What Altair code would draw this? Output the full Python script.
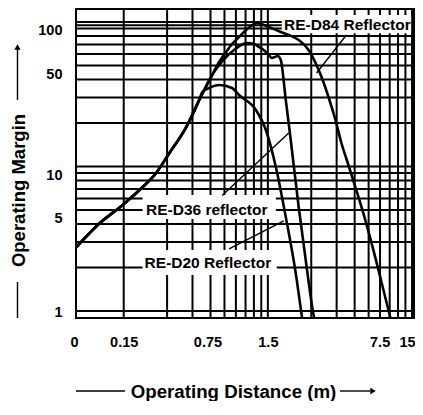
import altair as alt
import pandas as pd

FONT = "Liberation Sans"

# ---- grid and ticks ----
x_grid = [0.15, 0.3, 0.45, 0.6, 0.75, 0.9, 1.05, 1.2, 1.35, 1.5,
          3, 4.5, 6, 7.5, 9, 10.5, 12, 13.5, 15]
y_grid = [1, 2, 3, 4, 5, 6, 7, 8, 9, 10, 20, 30, 40, 50, 60, 70, 80, 90, 95, 100]
x_ticks = [0.07, 0.15, 0.75, 1.5, 7.5, 15]
y_ticks = [1, 5, 10, 50, 100]

# ---- curves ----
rise_x = [0.0705, 0.1025, 0.1476, 0.1997, 0.2454, 0.3114, 0.408, 0.5015]
rise_y = [2.77, 4.06, 5.42, 7.10, 8.73, 12.4, 18.8, 28.9]

d84_x = [0.6165, 0.6888, 0.770, 0.8467, 0.917, 1.025, 1.145, 1.26, 1.408, 1.524,
         1.844, 2.094, 2.454, 2.877, 3.215, 3.537, 3.951, 4.416, 4.857, 5.43,
         6.069, 7.113, 8.334, 9.771, 10.58, 10.83]
d84_y = [42.97, 52.86, 62.0, 70.43, 76.28, 85.28, 93.83, 98.42, 95.33, 92.34,
         85.28, 81.28, 75.06, 64.01, 52.03, 41.64, 30.27, 20.98, 14.54, 10.24,
         7.21, 4.26, 2.36, 1.25, 0.909, 0.826]

d36_x = [0.6165, 0.6888, 0.770, 0.8745, 0.977, 1.0749, 1.2012, 1.300, 1.4303, 1.524,
         1.599, 1.677, 1.758, 1.8436, 1.997, 2.162, 2.454, 2.787, 3.114, 3.189]
d36_y = [42.97, 50.40, 57.26, 64.01, 69.31, 71.55, 70.43, 67.14, 63.00, 59.11,
         56.35, 57.26, 58.18, 54.58, 28.86, 15.26, 5.245, 2.016, 0.938, 0.839]

d20_x = [0.5259, 0.5877, 0.6888, 0.8467, 0.9464, 1.240, 1.4532, 1.704, 1.997,
         2.340, 2.574, 2.615]
d20_y = [32.78, 34.94, 36.65, 34.94, 31.24, 24.60, 17.89, 9.92, 4.472,
         1.832, 0.938, 0.839]

# ---- annotations ----
label_text = ["RE-D84 Reflector", "RE-D36 reflector", "RE-D20 Reflector"]
label_x = [5.343, 0.565, 0.5757]
label_y = [95.3, 5.0, 2.135]
box_x1 = [1.874, 0.2028, 0.2028]
box_x2 = [14.8, 1.704, 1.731]
box_y1 = [83.5, 4.332, 1.775]
box_y2 = [111.8, 6.352, 2.643]
lead_x1 = [5.26, 0.7226, 0.8075]
lead_y1 = [81.3, 6.30, 2.686]
lead_x2 = [3.266, 2.094, 1.934]
lead_y2 = [44.4, 17.05, 4.196]

rows = []
for name, xs, ys in [("RE-D84", rise_x + d84_x, rise_y + d84_y),
                     ("RE-D36", rise_x + d36_x, rise_y + d36_y),
                     ("RE-D20", rise_x + d20_x, rise_y + d20_y)]:
    for i, (a, b) in enumerate(zip(xs, ys)):
        rows.append({"series": name, "x": a, "y": b, "i": i})
curves = pd.DataFrame(rows)

labels = pd.DataFrame({"text": label_text, "x": label_x, "y": label_y})
boxes = pd.DataFrame({"x": box_x1, "x2": box_x2, "y": box_y1, "y2": box_y2})
leads = pd.DataFrame({"x": lead_x1, "x2": lead_x2, "y": lead_y1, "y2": lead_y2})
one = pd.DataFrame({"k": [0]})

xscale = alt.Scale(type="log", domain=[0.07, 15.484], nice=False)
yscale = alt.Scale(type="log", domain=[0.8944, 123.0], nice=False)

x_axis = alt.Axis(
    values=x_ticks, format="~g",
    labelExpr="datum.value < 0.1 ? '0' : datum.label",
    title="Operating Distance (m)", grid=False, ticks=False, domain=False,
    labelFont=FONT, labelFontSize=14.5, labelFontWeight="bold", labelColor="black",
    labelPadding=17, labelFlush=False, labelOverlap=False,
    labelOffset={"condition": [{"test": "datum.value == 0.75", "value": -17},
                               {"test": "datum.value == 7.5", "value": 11},
                               {"test": "datum.value > 14", "value": -5},
                               {"test": "datum.value < 0.1", "value": -2}],
                 "value": 0},
    titleFont=FONT, titleFontSize=18.7, titleFontWeight="bold", titleColor="black",
    titleX=157, titleY=73, titleAlign="center", titleBaseline="middle",
)
y_axis = alt.Axis(
    values=y_ticks, format="~g",
    title="Operating Margin", grid=False, ticks=False, domain=False,
    labelFont=FONT, labelFontSize=14.5, labelFontWeight="bold", labelColor="black",
    labelPadding=14, labelOverlap=False,
    labelOffset={"condition": {"test": "datum.value == 1", "value": 2}, "value": 9},
    titleFont=FONT, titleFontSize=18.5, titleFontWeight="bold", titleColor="black",
    titleX=-58, titleY=181, titleAngle=270, titleAlign="center", titleBaseline="middle",
)

X = lambda: alt.X("x:Q", scale=xscale, axis=x_axis)
Y = lambda: alt.Y("y:Q", scale=yscale, axis=y_axis)

vgrid = alt.Chart(pd.DataFrame({"x": x_grid})).mark_rule(color="black", strokeWidth=2).encode(
    x=X())
hgrid = alt.Chart(pd.DataFrame({"y": y_grid})).mark_rule(color="black", strokeWidth=2).encode(
    y=Y())

box_layer = alt.Chart(boxes).mark_rect(color="white").encode(
    x=X(), x2="x2:Q", y=Y(), y2="y2:Q")
lead_layer = alt.Chart(leads).mark_rule(color="black", strokeWidth=1.4).encode(
    x=X(), x2="x2:Q", y=Y(), y2="y2:Q")
curve_layer = alt.Chart(curves).mark_line(
    color="black", strokeWidth=2.6, interpolate="monotone", clip=True).encode(
    x=X(), y=Y(), detail="series:N", order="i:Q")
text_layer = alt.Chart(labels).mark_text(
    font=FONT, fontSize=15.5, fontWeight="bold", color="black",
    align="center", baseline="middle").encode(x=X(), y=Y(), text="text:N")

deco = alt.Chart(one)
d1 = deco.mark_rule(color="black", strokeWidth=1.4).encode(
    x=alt.value(-58.5), y=alt.value(38), y2=alt.value(91))
d2 = deco.mark_rule(color="black", strokeWidth=1.4).encode(
    x=alt.value(-58.5), y=alt.value(273), y2=alt.value(309))
d3 = deco.mark_rule(color="black", strokeWidth=1.4).encode(
    x=alt.value(0), x2=alt.value(49), y=alt.value(382))
d4 = deco.mark_rule(color="black", strokeWidth=1.4).encode(
    x=alt.value(264), x2=alt.value(294), y=alt.value(382))
a1 = deco.mark_point(shape="triangle-up", filled=True, size=40, color="black", opacity=1).encode(
    x=alt.value(-58.5), y=alt.value(38))
a2 = deco.mark_point(shape="triangle-right", filled=True, size=40, color="black", opacity=1).encode(
    x=alt.value(297), y=alt.value(382))

chart = alt.layer(
    vgrid, hgrid, box_layer, lead_layer, curve_layer, text_layer,
    d1, d2, d3, d4, a1, a2
).properties(
    width=338, height=309,
    autosize=alt.AutoSizeParams(type="none"),
    padding={"left": 68, "top": 1, "right": 1, "bottom": 83},
    background="white",
).configure_view(stroke="black", strokeWidth=2)

chart.save("out.html", embed_options={"renderer": "svg", "actions": False})
